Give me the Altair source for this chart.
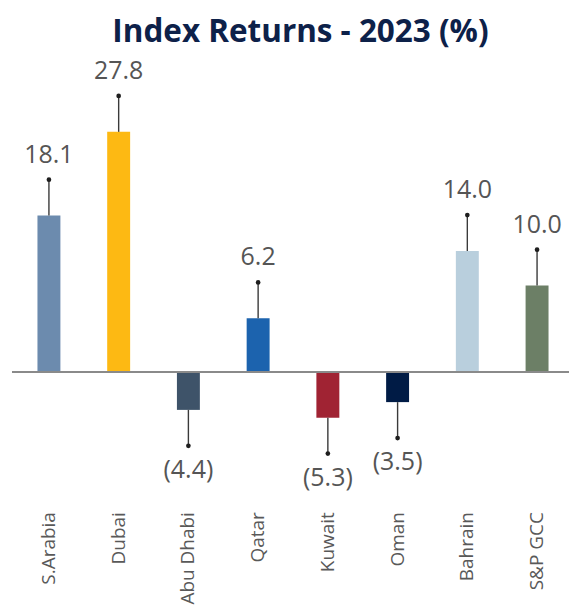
import altair as alt
import pandas as pd

markets = ["S.Arabia", "Dubai", "Abu Dhabi", "Qatar", "Kuwait", "Oman", "Bahrain", "S&P GCC"]
returns = [18.1, 27.8, -4.4, 6.2, -5.3, -3.5, 14.0, 10.0]
colors = ["#6c8bae", "#fdb913", "#3e5369", "#1c63ae", "#a02333", "#001b45", "#b9cfdd", "#6c7f66"]

df = pd.DataFrame({"market": markets, "v": returns, "color": colors})

PIN = 4.16  # pin length in data units

base = alt.Chart(df).transform_calculate(
    pin=f"datum.v >= 0 ? datum.v + {PIN} : datum.v - {PIN}",
    label="datum.v < 0 ? '(' + format(-datum.v, '.1f') + ')' : format(datum.v, '.1f')",
)

x = alt.X(
    "market:N",
    sort=markets,
    scale=alt.Scale(paddingInner=0.671, paddingOuter=0.358, align=0.59),
    axis=alt.Axis(
        title=None, labelAngle=-90, domain=False, ticks=False,
        labelFont="Open Sans", labelFontSize=19, labelColor="#595959",
        labelPadding=6,
    ),
)
yscale = alt.Scale(domain=[-15.49, 36.07], nice=False, zero=False)

bars = base.mark_bar().encode(
    x=x,
    y=alt.Y("v:Q", scale=yscale, axis=None),
    y2=alt.datum(0),
    color=alt.Color("color:N", scale=None),
)

pins = base.mark_rule(color="#3a3a3a", strokeWidth=1.4).encode(
    x=x,
    y=alt.Y("v:Q", scale=yscale),
    y2="pin:Q",
)

dots = base.mark_point(filled=True, color="#1e1e1e", size=22, opacity=1).encode(
    x=x,
    y=alt.Y("pin:Q", scale=yscale),
)

pos_labels = base.transform_filter("datum.v >= 0").mark_text(
    font="Open Sans", fontSize=25, color="#555555", baseline="alphabetic", dy=-17
).encode(x=x, y=alt.Y("pin:Q", scale=yscale), text="label:N")

neg_labels = base.transform_filter("datum.v < 0").mark_text(
    font="Open Sans", fontSize=25, color="#555555", baseline="alphabetic", dy=32
).encode(x=x, y=alt.Y("pin:Q", scale=yscale), text="label:N")

zero = alt.Chart(pd.DataFrame({"z": [0]})).mark_rule(color="#8a8a8a", strokeWidth=2).encode(
    x=alt.value(4), x2=alt.value(562), y=alt.Y("z:Q", scale=yscale)
)

chart = alt.layer(bars, zero, pins, dots, pos_labels, neg_labels).properties(
    width=562,
    height=446,
    padding={"top": 8, "left": 0, "right": 0, "bottom": 0},
    title=alt.TitleParams(
        "Index Returns - 2023 (%)",
        font="Open Sans", fontSize=31.5, fontWeight="bold", color="#0d2149",
        anchor="middle", offset=11, dx=12,
    ),
).configure_view(stroke=None)

chart.save("out.html", embed_options={"renderer": "svg", "actions": False})
